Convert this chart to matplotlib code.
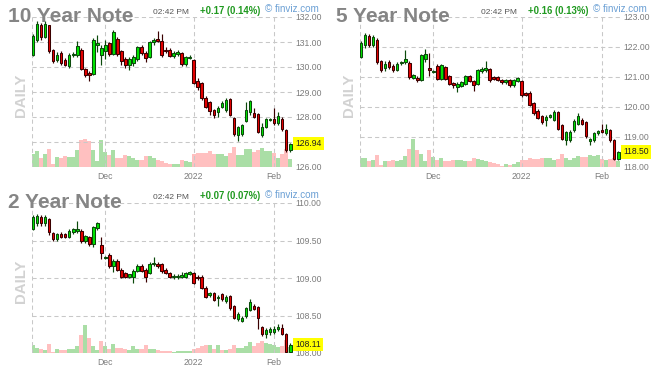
import numpy as np
import pandas as pd
import matplotlib
matplotlib.use("Agg")
import matplotlib.pyplot as plt

plt.rcParams['font.family'] = ['Liberation Sans', 'DejaVu Sans']

# trading days shown on every panel (Nov 4 2021 .. Feb 7 2022)
days = pd.bdate_range('2021-11-04', '2022-02-07')
days = days.drop(pd.to_datetime(['2021-11-25', '2021-12-24', '2022-01-17']))

# 10 year note
o10 = [130.49, 131.10, 131.67, 131.20, 131.67, 130.67, 130.27, 130.55, 130.27, 130.03,
       130.47, 130.47, 130.67, 129.93, 129.78, 129.73, 130.87, 130.47, 130.63, 130.96,
       130.53, 131.13, 130.63, 130.33, 130.10, 130.18, 130.33, 130.80, 130.57, 130.41,
       131.00, 131.13, 131.03, 130.69, 130.69, 130.43, 130.53, 130.56, 130.12, 130.38,
       130.27, 129.44, 129.37, 128.77, 128.60, 128.27, 128.20, 128.40, 128.27, 128.71,
       127.97, 127.28, 127.31, 127.84, 128.20, 128.17, 128.11, 127.28, 127.60, 127.88,
       127.93, 127.76, 127.93, 127.49, 126.69]
h10 = [131.30, 131.83, 131.75, 131.85, 131.70, 130.72, 130.60, 130.65, 130.35, 130.55,
       130.60, 131.03, 130.75, 129.97, 129.85, 131.15, 131.27, 130.90, 131.10, 131.00,
       131.47, 131.20, 130.70, 130.40, 130.40, 130.50, 130.85, 130.90, 130.65, 131.05,
       131.15, 131.45, 131.30, 130.80, 130.75, 130.65, 130.70, 130.60, 130.45, 130.50,
       130.30, 129.55, 129.40, 128.85, 128.65, 128.30, 128.45, 128.65, 128.75, 128.75,
       128.00, 127.65, 127.72, 128.60, 128.68, 128.35, 128.15, 127.75, 127.95, 127.98,
       128.35, 128.20, 128.00, 127.52, 126.95]
l10 = [130.45, 131.00, 131.10, 131.15, 130.55, 130.15, 130.20, 130.10, 130.03, 129.98,
       130.40, 130.40, 129.90, 129.60, 129.43, 129.70, 130.60, 130.10, 130.30, 130.45,
       130.50, 130.45, 130.10, 129.95, 129.90, 130.05, 130.25, 130.50, 130.20, 130.35,
       130.90, 131.00, 130.40, 130.55, 130.40, 130.35, 130.45, 130.05, 130.05, 130.30,
       129.30, 129.10, 128.70, 128.35, 128.10, 127.95, 128.00, 128.35, 128.20, 128.05,
       127.25, 127.05, 127.25, 127.80, 128.10, 127.95, 127.35, 127.20, 127.55, 127.85,
       127.70, 127.70, 127.45, 126.62, 126.60]
c10 = [131.24, 131.73, 131.20, 131.72, 130.63, 130.23, 130.47, 130.17, 130.10, 130.47,
       130.53, 130.83, 129.93, 129.69, 129.70, 131.10, 130.97, 130.76, 130.87, 130.53,
       131.40, 130.53, 130.23, 130.10, 130.33, 130.40, 130.80, 130.57, 130.35, 131.00,
       131.10, 131.05, 130.47, 130.65, 130.45, 130.56, 130.58, 130.13, 130.39, 130.42,
       129.37, 129.20, 128.77, 128.41, 128.23, 128.07, 128.36, 128.57, 128.67, 128.09,
       127.31, 127.61, 127.68, 128.28, 128.63, 128.00, 127.41, 127.60, 127.91, 127.93,
       127.76, 128.03, 127.52, 126.67, 126.94]
vol10 = [13, 16, 9, 13, 18, 3, 10, 9, 11, 10, 10, 17, 27, 28, 26, 17, 6, 27, 15, 12,
         17, 9, 9, 12, 11, 9, 7, 7, 11, 11, 9, 7, 6, 4, 3, 3, 3, 7, 6, 5,
         13, 14, 14, 14, 16, 13, 13, 13, 11, 14, 20, 12, 12, 18, 18, 15, 17, 19, 16, 16,
         14, 9, 13, 18, 8]

# 5 year note
o5 = [121.67, 122.06, 122.37, 122.06, 122.23, 121.53, 121.29, 121.51, 121.37, 121.23,
      121.46, 121.51, 121.48, 120.98, 120.98, 120.91, 121.60, 121.29, 121.18, 121.37,
      120.94, 121.33, 121.03, 120.81, 120.67, 120.71, 120.78, 121.03, 120.86, 120.78,
      121.19, 121.22, 121.26, 121.01, 121.00, 120.90, 120.82, 120.89, 120.72, 120.87,
      120.86, 120.46, 120.48, 120.12, 119.88, 119.69, 119.56, 119.67, 119.56, 119.83,
      119.41, 118.89, 118.89, 119.22, 119.44, 119.56, 119.50, 118.86, 118.91, 119.12,
      119.23, 119.12, 119.23, 118.89, 118.28]
h5 = [122.20, 122.47, 122.42, 122.40, 122.30, 121.58, 121.55, 121.56, 121.42, 121.50,
      121.55, 121.90, 121.52, 121.10, 121.02, 121.78, 121.95, 121.80, 121.25, 121.42,
      121.45, 121.38, 121.06, 120.85, 120.82, 120.88, 121.08, 121.07, 120.90, 121.26,
      121.32, 121.55, 121.30, 121.05, 121.04, 120.94, 120.93, 120.93, 120.93, 121.00,
      120.90, 120.50, 120.52, 120.16, 119.92, 119.73, 119.72, 119.78, 119.90, 119.87,
      119.45, 119.20, 119.22, 119.60, 119.80, 119.62, 119.55, 118.98, 119.18, 119.25,
      119.45, 119.42, 119.28, 118.93, 118.55]
l5 = [121.62, 121.98, 122.00, 122.00, 121.45, 121.18, 121.20, 121.28, 121.18, 121.20,
      121.40, 121.45, 120.95, 120.92, 120.82, 120.88, 121.50, 121.05, 121.15, 120.90,
      120.90, 120.90, 120.72, 120.62, 120.50, 120.66, 120.74, 120.82, 120.55, 120.74,
      121.15, 121.18, 120.85, 120.90, 120.86, 120.78, 120.78, 120.68, 120.68, 120.84,
      120.35, 120.36, 120.02, 119.75, 119.60, 119.45, 119.38, 119.62, 119.52, 119.22,
      118.90, 118.75, 118.85, 119.18, 119.40, 119.40, 118.98, 118.72, 118.85, 119.08,
      119.12, 119.08, 118.85, 118.24, 118.22]
c5 = [122.14, 122.39, 122.06, 122.34, 121.51, 121.23, 121.44, 121.34, 121.23, 121.42,
      121.51, 121.60, 120.99, 121.07, 120.91, 121.74, 121.77, 121.23, 121.21, 120.94,
      121.41, 120.94, 120.77, 120.72, 120.78, 120.82, 121.03, 120.86, 120.72, 121.22,
      121.28, 121.30, 120.89, 120.94, 120.90, 120.82, 120.89, 120.72, 120.89, 120.96,
      120.39, 120.41, 120.06, 119.79, 119.64, 119.50, 119.67, 119.74, 119.83, 119.26,
      118.94, 119.17, 119.17, 119.53, 119.70, 119.44, 119.03, 118.94, 119.14, 119.21,
      119.17, 119.28, 118.89, 118.28, 118.50]
vol5 = [9, 9, 6, 7, 12, 2, 6, 6, 7, 6, 7, 11, 18, 28, 17, 13, 6, 17, 10, 7,
        9, 6, 6, 7, 7, 7, 6, 6, 9, 8, 7, 6, 5, 4, 3, 1, 3, 2, 3, 5,
        7, 7, 9, 8, 8, 9, 9, 9, 7, 8, 13, 9, 7, 9, 11, 10, 10, 12, 11, 12,
        8, 7, 8, 9, 6]

# 2 year note
o2 = [109.66, 109.74, 109.81, 109.73, 109.79, 109.60, 109.52, 109.58, 109.58, 109.55,
      109.61, 109.63, 109.63, 109.49, 109.54, 109.45, 109.67, 109.44, 109.27, 109.31,
      109.16, 109.23, 109.11, 109.06, 109.02, 109.01, 109.10, 109.16, 109.11, 109.07,
      109.18, 109.19, 109.18, 109.11, 109.06, 109.01, 109.01, 109.02, 109.02, 109.06,
      109.06, 109.02, 109.02, 108.87, 108.77, 108.80, 108.73, 108.78, 108.69, 108.76,
      108.62, 108.46, 108.43, 108.49, 108.58, 108.63, 108.61, 108.34, 108.26, 108.28,
      108.28, 108.32, 108.34, 108.25, 108.02]
h2 = [109.84, 109.86, 109.84, 109.84, 109.80, 109.62, 109.60, 109.62, 109.60, 109.65,
      109.67, 109.76, 109.65, 109.58, 109.56, 109.70, 109.75, 109.55, 109.30, 109.33,
      109.25, 109.25, 109.13, 109.08, 109.06, 109.12, 109.18, 109.18, 109.13, 109.22,
      109.28, 109.22, 109.20, 109.13, 109.08, 109.05, 109.06, 109.08, 109.08, 109.10,
      109.08, 109.04, 109.04, 108.89, 108.82, 108.82, 108.77, 108.80, 108.77, 108.78,
      108.64, 108.54, 108.49, 108.62, 108.72, 108.65, 108.63, 108.36, 108.33, 108.35,
      108.36, 108.39, 108.39, 108.27, 108.13]
l2 = [109.64, 109.70, 109.70, 109.70, 109.58, 109.50, 109.50, 109.53, 109.53, 109.53,
      109.59, 109.60, 109.47, 109.47, 109.43, 109.42, 109.64, 109.26, 109.26, 109.14,
      109.08, 109.09, 109.00, 109.00, 109.00, 108.94, 109.08, 109.08, 108.95, 109.05,
      109.16, 109.14, 109.07, 109.05, 109.00, 108.99, 108.99, 109.00, 109.00, 109.04,
      108.92, 108.97, 108.85, 108.73, 108.75, 108.69, 108.63, 108.70, 108.67, 108.58,
      108.45, 108.43, 108.41, 108.47, 108.56, 108.57, 108.32, 108.23, 108.20, 108.24,
      108.25, 108.30, 108.24, 108.00, 107.99]
c2 = [109.81, 109.83, 109.73, 109.82, 109.61, 109.52, 109.58, 109.55, 109.55, 109.63,
      109.65, 109.65, 109.49, 109.56, 109.45, 109.68, 109.73, 109.34, 109.28, 109.16,
      109.23, 109.11, 109.02, 109.02, 109.05, 109.10, 109.16, 109.10, 109.02, 109.19,
      109.20, 109.16, 109.09, 109.07, 109.02, 109.03, 109.03, 109.04, 109.06, 109.08,
      108.94, 109.00, 108.87, 108.75, 108.80, 108.71, 108.75, 108.72, 108.75, 108.60,
      108.47, 108.52, 108.47, 108.60, 108.68, 108.59, 108.47, 108.25, 108.31, 108.32,
      108.32, 108.35, 108.26, 108.02, 108.11]
vol2 = [8, 5, 4, 3, 9, 1, 4, 3, 3, 4, 4, 7, 18, 28, 15, 7, 3, 12, 7, 4,
        9, 5, 5, 4, 3, 7, 4, 4, 8, 4, 4, 3, 2, 2, 2, 1, 2, 2, 2, 2,
        4, 5, 7, 8, 8, 4, 8, 3, 3, 4, 8, 5, 5, 7, 11, 7, 10, 12, 10, 9,
        8, 6, 7, 13, 6]

panels = [
    ("10 Year Note", "+0.17 (0.14%)", o10, h10, l10, c10, vol10, [126, 127, 128, 129, 130, 131, 132], 0, 0),
    ("5 Year Note", "+0.16 (0.13%)", o5, h5, l5, c5, vol5, [118, 119, 120, 121, 122, 123], 328, 0),
    ("2 Year Note", "+0.07 (0.07%)", o2, h2, l2, c2, vol2, [108.0, 108.5, 109.0, 109.5, 110.0], 0, 186),
]

W, H = 664, 382
GRID = '#c8c8c8'
LBL = '#7c7c7c'

# month starts for the x ticks
month_idx = [i for i in range(1, len(days)) if days[i].month != days[i - 1].month]
month_lbl = [str(days[i].year) if days[i].month == 1 else days[i].strftime('%b') for i in month_idx]

fig = plt.figure(figsize=(W / 100, H / 100), dpi=100)
fig.patch.set_facecolor('white')

for title, change, o, h, l, c, vol, yt, dx, dy in panels:
    o, h, l, c = map(np.array, (o, h, l, c))
    x = np.arange(len(o))
    up = c >= o

    ax = fig.add_axes([(32 + dx) / W, 1 - (167 + dy) / H, 261 / W, 150 / H])
    vax = ax.twinx()
    vax.set_zorder(ax.get_zorder() - 1)
    ax.patch.set_visible(False)

    # volume behind the candles
    vax.bar(x, vol, width=1.0, color=np.where(up, '#aadea6', '#ffc0c0'), linewidth=0)
    vax.set_ylim(0, max(vol) * 5.35)
    vax.axis('off')

    ymin, ymax = yt[0], yt[-1]
    minh = (ymax - ymin) / 150
    edge = np.where(up, '#0b4a0b', '#3a0000')
    ax.vlines(x, l, h, colors=edge, linewidth=0.85, zorder=3)
    ax.bar(x, np.maximum(np.abs(c - o), minh), width=0.66, bottom=np.minimum(o, c),
           color=np.where(up, '#00e600', '#e60000'), edgecolor=edge, linewidth=0.75, zorder=4)

    ax.set_xlim(-0.25, 64.7)
    ax.set_ylim(ymin, ymax)
    ax.set_yticks(yt)
    ax.set_yticklabels([f"{v:.2f}" for v in yt])
    ax.yaxis.tick_right()
    ax.set_xticks(month_idx)
    ax.set_xticklabels(month_lbl)
    ax.tick_params(length=0, labelsize=6.2, labelcolor=LBL)
    ax.tick_params(axis='y', pad=2)
    ax.tick_params(axis='x', pad=3.5)
    for s in ax.spines.values():
        s.set_visible(False)
    ax.grid(True, color=GRID, linestyle=(0, (4, 3)), linewidth=0.75, zorder=1)
    ax.axvline(-0.25, color=GRID, linestyle=(0, (4, 3)), linewidth=0.75, zorder=1)

    # last price tag
    ax.text(1 + 2.5 / 261, c[-1], f"{c[-1]:.2f}", transform=ax.get_yaxis_transform(),
            ha='left', va='center', fontsize=6.2, color='#222222', zorder=10, clip_on=False,
            bbox=dict(boxstyle='square,pad=0.25', fc='#ffff00', ec='none'))

    # header texts
    fig.text((8 + dx) / W, 1 - (22 + dy) / H, title, fontsize=15, fontweight='bold',
             color='#858585', va='baseline')
    fig.text((153 + dx) / W, 1 - (13.5 + dy) / H, "02:42 PM", fontsize=6, color='#555555', va='baseline')
    fig.text((200 + dx) / W, 1 - (13.5 + dy) / H, change, fontsize=6.9, fontweight='bold',
             color='#1f991f', va='baseline')
    fig.text((265 + dx) / W, 1 - (12.5 + dy) / H, "\u00a9 finviz.com", fontsize=7.1,
             color='#6a9fd4', va='baseline')
    fig.text((21 + dx) / W, 1 - (95 + dy) / H, "DAILY", fontsize=10.8, fontweight='bold',
             color='#d2d2d2', rotation=90, ha='center', va='center')

fig.savefig('out.png', dpi=100)
